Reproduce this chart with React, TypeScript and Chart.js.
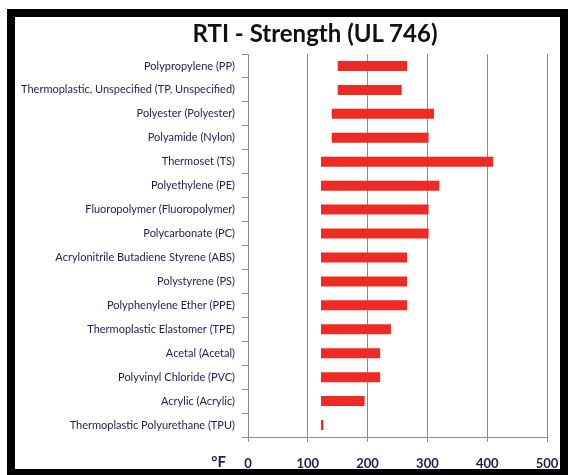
import React, { useEffect, useRef } from "react";
import { Chart, registerables } from "chart.js";

Chart.register(...registerables);

const titleText = "RTI - Strength (UL 746)";
const unitLabel = "°F";

const materials = [
  "Polypropylene (PP)",
  "Thermoplastic, Unspecified (TP, Unspecified)",
  "Polyester (Polyester)",
  "Polyamide (Nylon)",
  "Thermoset (TS)",
  "Polyethylene (PE)",
  "Fluoropolymer (Fluoropolymer)",
  "Polycarbonate (PC)",
  "Acrylonitrile Butadiene Styrene (ABS)",
  "Polystyrene (PS)",
  "Polyphenylene Ether (PPE)",
  "Thermoplastic Elastomer (TPE)",
  "Acetal (Acetal)",
  "Polyvinyl Chloride (PVC)",
  "Acrylic (Acrylic)",
  "Thermoplastic Polyurethane (TPU)",
];

const rtiLow = [150, 150, 140, 140, 122, 122, 122, 122, 122, 122, 122, 122, 122, 122, 122, 122];
const rtiHigh = [266, 257, 311, 302, 410, 320, 302, 302, 266, 266, 266, 239, 221, 221, 195, 126];

const xMin = 0;
const xMax = 500;
const xStep = 100;

const labelColor = "#1c1c58";
const gridColor = "#8c8c8c";
const barColor = "#ee2a24";

const unitPlugin = {
  id: "unitLabel",
  afterDraw(chart: any) {
    const xs = chart.scales.x;
    const ctx = chart.ctx;
    ctx.save();
    ctx.font = "bold 15px Lato";
    ctx.fillStyle = labelColor;
    ctx.textAlign = "right";
    ctx.textBaseline = "top";
    ctx.fillText(unitLabel, xs.getPixelForValue(0) - 22, xs.top + 18);
    ctx.restore();
  },
};

export default function App() {
  const ref = useRef<HTMLCanvasElement | null>(null);

  useEffect(() => {
    if (!ref.current) return;
    const chart = new Chart(ref.current, {
      type: "bar",
      data: {
        labels: materials,
        datasets: [
          {
            data: materials.map((_, i) => [rtiLow[i], rtiHigh[i]]) as any,
            backgroundColor: barColor,
            borderWidth: 0,
            borderSkipped: false,
            barPercentage: 0.42,
            categoryPercentage: 1,
          },
        ],
      },
      plugins: [unitPlugin],
      options: {
        indexAxis: "y",
        responsive: false,
        animation: false,
        layout: { padding: { left: 15, top: 54, right: 21, bottom: 6 } },
        plugins: {
          legend: { display: false },
          title: { display: false },
          tooltip: { enabled: false },
        },
        scales: {
          x: {
            type: "linear",
            min: xMin,
            max: xMax,
            ticks: {
              stepSize: xStep,
              color: labelColor,
              font: { family: "Lato", size: 13, weight: "bold" },
              padding: 14,
            },
            grid: {
              color: gridColor,
              lineWidth: 1,
              tickLength: 5,
              drawOnChartArea: true,
            },
            border: { color: gridColor, width: 1 },
            afterFit(scale: any) {
              scale.height = 32;
              scale.paddingRight = 0;
              scale.paddingLeft = 0;
            },
          },
          y: {
            type: "category",
            ticks: {
              color: labelColor,
              font: { family: "Lato", size: 11 },
              padding: 7,
              autoSkip: false,
            },
            grid: {
              color: gridColor,
              lineWidth: 1,
              tickLength: 6,
              drawOnChartArea: false,
              offset: true,
            },
            border: { color: gridColor, width: 1 },
            afterFit(scale: any) {
              scale.width = 233;
              scale.paddingTop = 0;
              scale.paddingBottom = 0;
            },
          },
        },
      },
    });
    return () => chart.destroy();
  }, []);

  return (
    <div
      style={{
        position: "fixed",
        left: 0,
        top: 0,
        width: 568,
        height: 475,
        background: "#fff",
        overflow: "hidden",
      }}
    >
      <canvas ref={ref} width={568} height={475} style={{ position: "absolute", left: 0, top: 0 }} />
      <div
        style={{
          position: "absolute",
          left: 150,
          width: 330,
          top: 19,
          textAlign: "center",
          font: "bold 24px Lato",
          lineHeight: "28px",
          color: "#111",
          whiteSpace: "nowrap",
        }}
      >
        {titleText}
      </div>
      <div
        style={{
          position: "absolute",
          left: 7,
          top: 9,
          width: 561,
          height: 468,
          border: "8px solid #000",
          boxSizing: "border-box",
          pointerEvents: "none",
        }}
      />
    </div>
  );
}
